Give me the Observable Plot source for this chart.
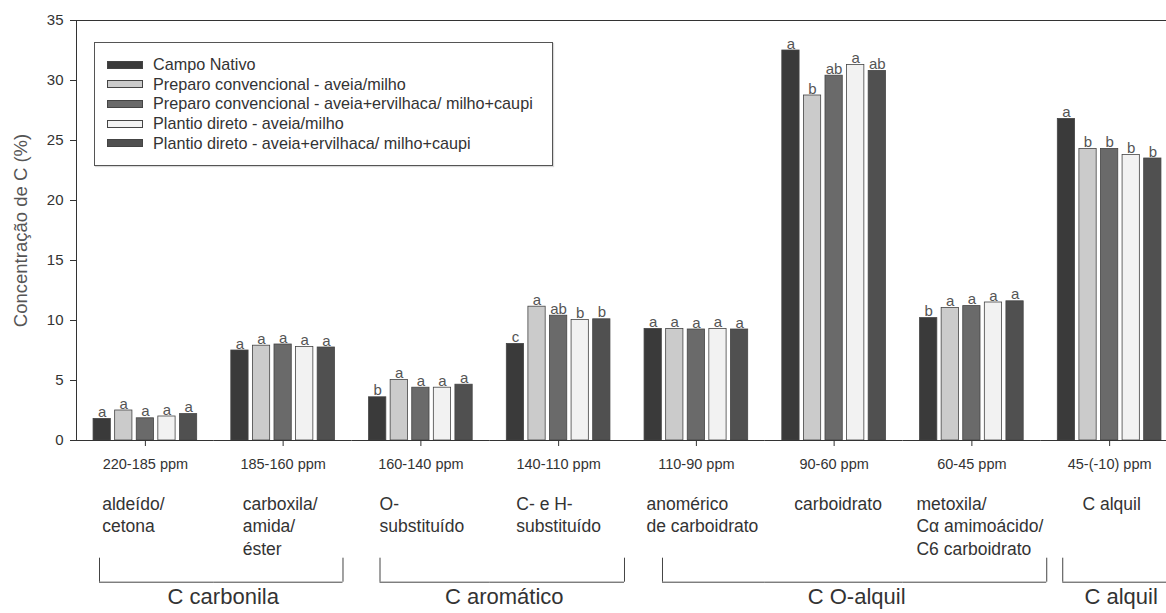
<!DOCTYPE html>
<html>
<head>
<meta charset="utf-8">
<script src="https://cdn.jsdelivr.net/npm/d3@7"></script>
<script src="https://cdn.jsdelivr.net/npm/@observablehq/plot@0.6"></script>
<style>
html, body { margin: 0; padding: 0; background: #fff; overflow: hidden; }
#wrap { position: relative; width: 1178px; height: 613px; font-family: "Liberation Sans", Arial, sans-serif; }
#legend { position: absolute; left: 94px; top: 42px; width: 459px; height: 124px; border: 1px solid #555; box-sizing: border-box; padding: 12px 0 0 12px; background: #fff; box-shadow: 1px 1px 1px rgba(0,0,0,0.15); }
.row { display: flex; align-items: center; height: 19.6px; font-size: 16.2px; color: #333; white-space: nowrap; }
.sw { width: 36px; height: 8px; border: 1px solid #444; margin-right: 10px; box-sizing: border-box; flex: none; }
</style>
</head>
<body>
<div id="wrap"><div id="legend"></div></div>
<script>
// ---------------- data ----------------
const categories = ["220-185 ppm", "185-160 ppm", "160-140 ppm", "140-110 ppm", "110-90 ppm", "90-60 ppm", "60-45 ppm", "45-(-10) ppm"];
const descriptions = ["aldeído/\ncetona", "carboxila/\namida/\néster", "O-\nsubstituído", "C- e H-\nsubstituído", "anomérico\nde carboidrato", "carboidrato", "metoxila/\nCα amimoácido/\nC6 carboidrato", "C alquil"];
const series = ["Campo Nativo", "Preparo convencional - aveia/milho", "Preparo convencional - aveia+ervilhaca/ milho+caupi", "Plantio direto - aveia/milho", "Plantio direto - aveia+ervilhaca/ milho+caupi"];

const campoNativo   = [1.8, 7.5, 3.6, 8.05, 9.3, 32.5, 10.2, 26.8];
const pcAveiaMilho  = [2.5, 7.9, 5.05, 11.15, 9.3, 28.75, 11.05, 24.3];
const pcErvilhaca   = [1.85, 8.0, 4.4, 10.4, 9.25, 30.4, 11.2, 24.3];
const pdAveiaMilho  = [2.0, 7.8, 4.4, 10.05, 9.3, 31.3, 11.5, 23.8];
const pdErvilhaca   = [2.2, 7.75, 4.65, 10.1, 9.25, 30.8, 11.6, 23.5];

const lettersCN   = ["a", "a", "b", "c", "a", "a", "b", "a"];
const lettersPCam = ["a", "a", "a", "a", "a", "b", "a", "b"];
const lettersPCae = ["a", "a", "a", "ab", "a", "ab", "a", "b"];
const lettersPDam = ["a", "a", "a", "b", "a", "a", "a", "b"];
const lettersPDae = ["a", "a", "a", "b", "a", "ab", "a", "b"];

const brackets = [
  {label: "C carbonila", first: 0, last: 1},
  {label: "C aromático", first: 2, last: 3},
  {label: "C O-alquil", first: 4, last: 6},
  {label: "C alquil", first: 7, last: 7}
];
const yTicks = [0, 5, 10, 15, 20, 25, 30, 35];
const yLabel = "Concentração de C (%)";

// ---------------- style / layout ----------------
const FONT = '"Liberation Sans", Arial, sans-serif';
const colors = ["#3a3a3a", "#cbcbcb", "#6a6a6a", "#f2f2f2", "#505050"];
const bracketInsets = [{l: 23, r: -9}, {l: 28, r: -3}, {l: 35, r: 6}, {l: 22, r: -3}];
const descShift = [-12, -3, 1, 0, 6, 4, 8, 2];
const W = 1178, H = 613, ML = 76, MT = 20, MB = 173;
const step = (W - ML) / categories.length;
const descSize = 17.5, bracketDy = 141.7;

const seriesValues = [campoNativo, pcAveiaMilho, pcErvilhaca, pdAveiaMilho, pdErvilhaca];
const seriesLetters = [lettersCN, lettersPCam, lettersPCae, lettersPDam, lettersPDae];
const rows = categories.flatMap((c, i) => series.map((s, j) => ({cat: c, series: s, value: seriesValues[j][i], letter: seriesLetters[j][i]})));

const ctx = document.createElement("canvas").getContext("2d");
ctx.font = `${descSize}px "Liberation Sans"`;
const blockWidth = (t) => d3.max(t.split("\n"), (l) => ctx.measureText(l).width);

const mid = () => series[2];
const yMid = () => 35 / 2;

const descMarks = categories.map((c, i) =>
  Plot.text([{cat: c, desc: descriptions[i]}], {
    fx: "cat", x: mid, text: "desc", frameAnchor: "bottom",
    textAnchor: "start", lineAnchor: "top", lineHeight: 1.29,
    dy: 53, dx: -blockWidth(descriptions[i]) / 2 + descShift[i],
    fontSize: descSize, fill: "#333"
  })
);

const bracketMarks = brackets.flatMap((b, bi) => {
  const {l, r} = bracketInsets[bi];
  const out = [];
  for (let k = b.first; k <= b.last; k++) {
    out.push(Plot.ruleY([{cat: categories[k]}], {
      fx: "cat", y: () => 0, dy: bracketDy,
      insetLeft: k === b.first ? l : 0, insetRight: k === b.last ? -r : 0,
      stroke: "#444", strokeWidth: 1
    }));
  }
  out.push(Plot.ruleX([{cat: categories[b.first]}], {fx: "cat", x: mid, dx: l - step / 2, insetTop: 396, dy: bracketDy, stroke: "#444"}));
  out.push(Plot.ruleX([{cat: categories[b.last]}], {fx: "cat", x: mid, dx: step / 2 + r, insetTop: 396, dy: bracketDy, stroke: "#444"}));
  out.push(Plot.text([{cat: categories[b.first], label: b.label}], {
    fx: "cat", x: mid, text: "label", frameAnchor: "bottom", dy: 163,
    dx: (l + r + (b.last - b.first) * step) / 2 + 2, fontSize: 22, fill: "#333"
  }));
  return out;
});

const plot = Plot.plot({
  width: W, height: H, marginLeft: ML, marginRight: 0, marginTop: MT, marginBottom: MB,
  style: {fontFamily: FONT, color: "#333", background: "#fff", overflow: "visible"},
  fx: {domain: categories, paddingInner: 0, paddingOuter: 0, round: false},
  x: {domain: series, paddingInner: 0.2, paddingOuter: 0.79, round: false, axis: null},
  y: {domain: [0, 35]},
  color: {domain: series, range: colors},
  marks: [
    Plot.frame({anchor: "top", stroke: "#333"}),
    Plot.barY(rows, {fx: "cat", x: "series", y: "value", fill: "series", stroke: "#444", strokeWidth: 0.8}),
    Plot.ruleY([0], {stroke: "#333"}),
    Plot.frame({anchor: "left", facetAnchor: "left", stroke: "#333"}),
    Plot.text(rows, {fx: "cat", x: "series", y: "value", text: "letter", dy: -2, lineAnchor: "bottom", fontSize: 15, fill: "#555"}),
    Plot.axisY({ticks: yTicks, tickSize: 6, tickPadding: 7, fontSize: 15, label: null, stroke: "#333"}),
    Plot.text([yLabel], {y: yMid, text: (d) => d, frameAnchor: "left", textAnchor: "middle", rotate: -90, dx: -55, fontSize: 18.5, fill: "#555", facetAnchor: "left"}),
    Plot.axisFx({anchor: "bottom", tickSize: 6, tickPadding: 12, fontSize: 14.5, label: null}),
    ...descMarks,
    ...bracketMarks
  ]
});
document.getElementById("wrap").prepend(plot);

// legend
const legend = d3.select("#legend");
series.forEach((s, i) => {
  const row = legend.append("div").attr("class", "row");
  row.append("div").attr("class", "sw").style("background", colors[i]);
  row.append("span").text(s);
});
</script>
</body>
</html>
